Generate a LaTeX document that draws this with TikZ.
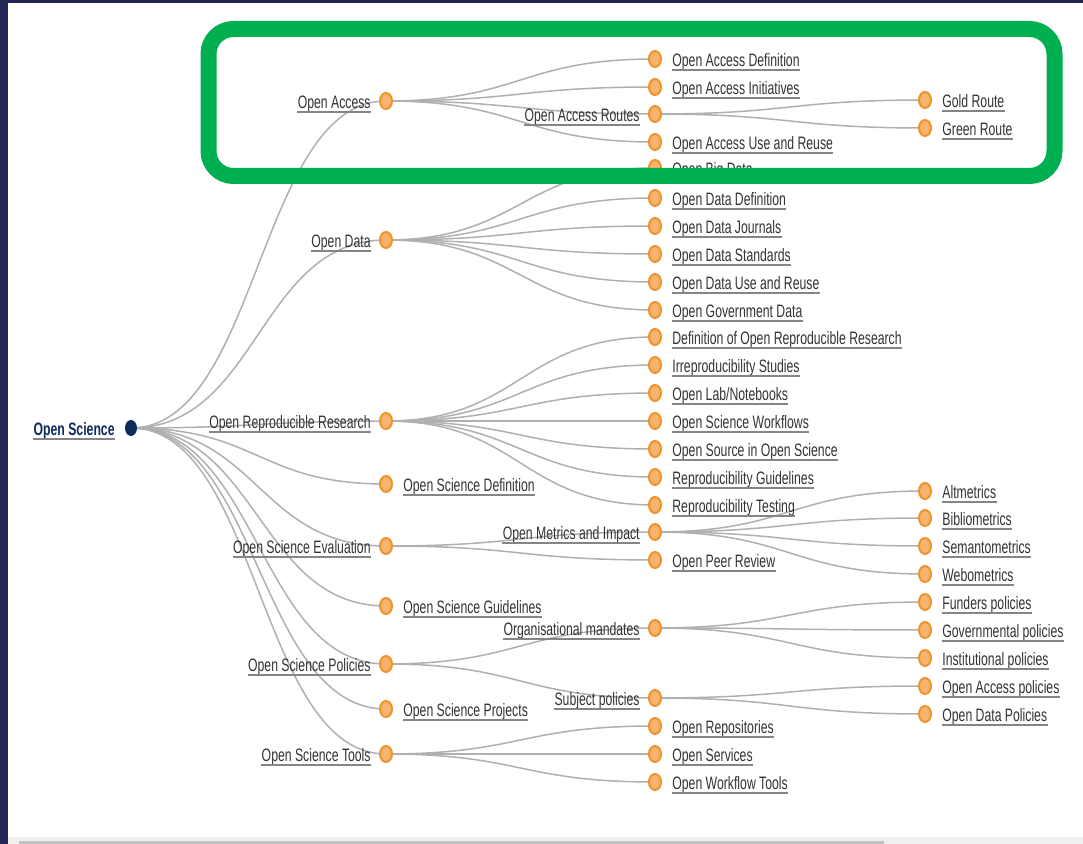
\documentclass[tikz,border=0pt]{standalone}
\usepackage{fontspec}
\newfontfamily\lblfont[FakeStretch=0.68]{Liberation Sans}
\usetikzlibrary{shapes.geometric,calc,backgrounds}

\definecolor{navy}{HTML}{232654}
\definecolor{rootblue}{HTML}{0D2C5C}
\definecolor{boxgreen}{HTML}{00B050}
\definecolor{ring}{HTML}{F0932B}
\definecolor{dotfill}{HTML}{F6B46E}
\definecolor{txt}{HTML}{333333}
\definecolor{uline}{HTML}{858585}
\definecolor{linkgray}{HTML}{B0B0B0}
\definecolor{barbg}{HTML}{F0F0F0}
\definecolor{bar}{HTML}{C2C2C2}

\begin{document}
\begin{tikzpicture}[x=0.5pt,y=-0.5pt]
    \tikzstyle{dot}=[ellipse,draw=ring,fill=dotfill,line width=1pt,minimum width=6pt,minimum height=8pt,inner sep=0pt]
    \tikzstyle{rootdot}=[ellipse,fill=rootblue,minimum width=6pt,minimum height=8pt,inner sep=0pt]
    \tikzstyle{lbl}=[inner sep=0pt,font=\lblfont\fontsize{9}{10}\selectfont,text=txt,
      text height=6.6pt,text depth=1.5pt,yshift=-1.3pt,
      append after command={(\tikzlastnode.south west) edge[draw=uline,line width=1pt] (\tikzlastnode.south east)}]
    \tikzstyle{lbl-r}=[lbl,anchor=west,xshift=8.5pt]
    \tikzstyle{lbl-l}=[lbl,anchor=east,xshift=-7.5pt]
    \tikzstyle{link}=[draw=linkgray,line width=0.75pt]
    \tikzset{diag/.style={to path={let \p1=(\tikztostart), \p2=(\tikztotarget) in
      .. controls ({0.5*\x1+0.5*\x2},\y1) and ({0.5*\x1+0.5*\x2},\y2) .. (\tikztotarget)}}}

    \useasboundingbox (0,0) rectangle (1083,844);
    \begin{scope}[on background layer]
      \fill[white] (0,0) rectangle (1083,844);
    \end{scope}

    % root
    \node[rootdot] (os) at (131,428) {};
    \node[lbl-l,font=\lblfont\bfseries\fontsize{9}{10}\selectfont,text=rootblue,xshift=-0.5pt] at (os.center) {Open Science};

    % first level
    \foreach \nm/\ypos/\side/\lab in {oa/101/l/Open Access, od/240/l/Open Data,
        orr/421/l/Open Reproducible Research, osd/484/r/Open Science Definition,
        ose/546/l/Open Science Evaluation, osg/606/r/Open Science Guidelines,
        osp/664/l/Open Science Policies, ospr/709/r/Open Science Projects,
        ost/754/l/Open Science Tools} {
      \node[dot] (\nm) at (386,\ypos) {};
      \node[lbl-\side] at (\nm.center) {\lab};
      \begin{scope}[on background layer]
        \draw[link] (os.center) to[diag] (\nm.center);
      \end{scope}
    }

    % second level
    \foreach \nm/\up/\ypos/\side/\lab in {oadef/oa/59/r/Open Access Definition,
        oaini/oa/87/r/Open Access Initiatives, oart/oa/114/l/Open Access Routes,
        oaur/oa/142/r/Open Access Use and Reuse, obd/od/168/r/Open Big Data,
        oddef/od/198/r/Open Data Definition, odj/od/226/r/Open Data Journals,
        ods/od/254/r/Open Data Standards, odur/od/282/r/Open Data Use and Reuse,
        ogd/od/310/r/Open Government Data,
        dorr/orr/337/r/Definition of Open Reproducible Research,
        irs/orr/365/r/Irreproducibility Studies, oln/orr/393/r/{Open Lab/Notebooks},
        osw/orr/421/r/Open Science Workflows, osos/orr/449/r/Open Source in Open Science,
        rg/orr/477/r/Reproducibility Guidelines, rt/orr/505/r/Reproducibility Testing,
        omi/ose/532/l/Open Metrics and Impact, opr/ose/560/r/Open Peer Review,
        om/osp/628/l/Organisational mandates, sp/osp/698/l/Subject policies,
        orep/ost/726/r/Open Repositories, osv/ost/754/r/Open Services,
        owt/ost/782/r/Open Workflow Tools} {
      \node[dot] (\nm) at (655,\ypos) {};
      \node[lbl-\side] at (\nm.center) {\lab};
      \begin{scope}[on background layer]
        \draw[link] (\up.center) to[diag] (\nm.center);
      \end{scope}
    }

    % third level
    \foreach \nm/\up/\ypos/\lab in {gold/oart/100/Gold Route, green/oart/128/Green Route,
        alt/omi/491/Altmetrics, bib/omi/518/Bibliometrics,
        sem/omi/546/Semantometrics, web/omi/574/Webometrics,
        fund/om/602/Funders policies, gov/om/630/Governmental policies,
        inst/om/658/Institutional policies, oap/sp/686/Open Access policies,
        odp/sp/714/Open Data Policies} {
      \node[dot] (\nm) at (925,\ypos) {};
      \node[lbl-r] at (\nm.center) {\lab};
      \begin{scope}[on background layer]
        \draw[link] (\up.center) to[diag] (\nm.center);
      \end{scope}
    }

    % highlight and frame
    \draw[boxgreen,line width=8pt,rounded corners=12.5pt] (208.5,29) rectangle (1054.5,176);
    \fill[navy] (0,0) rectangle (8,844);
    \fill[navy] (0,0) rectangle (1083,3);
    \fill[barbg] (8,837) rectangle (1083,844);
    \fill[bar] (19,841) rectangle (884,844);
\end{tikzpicture}
\end{document}
